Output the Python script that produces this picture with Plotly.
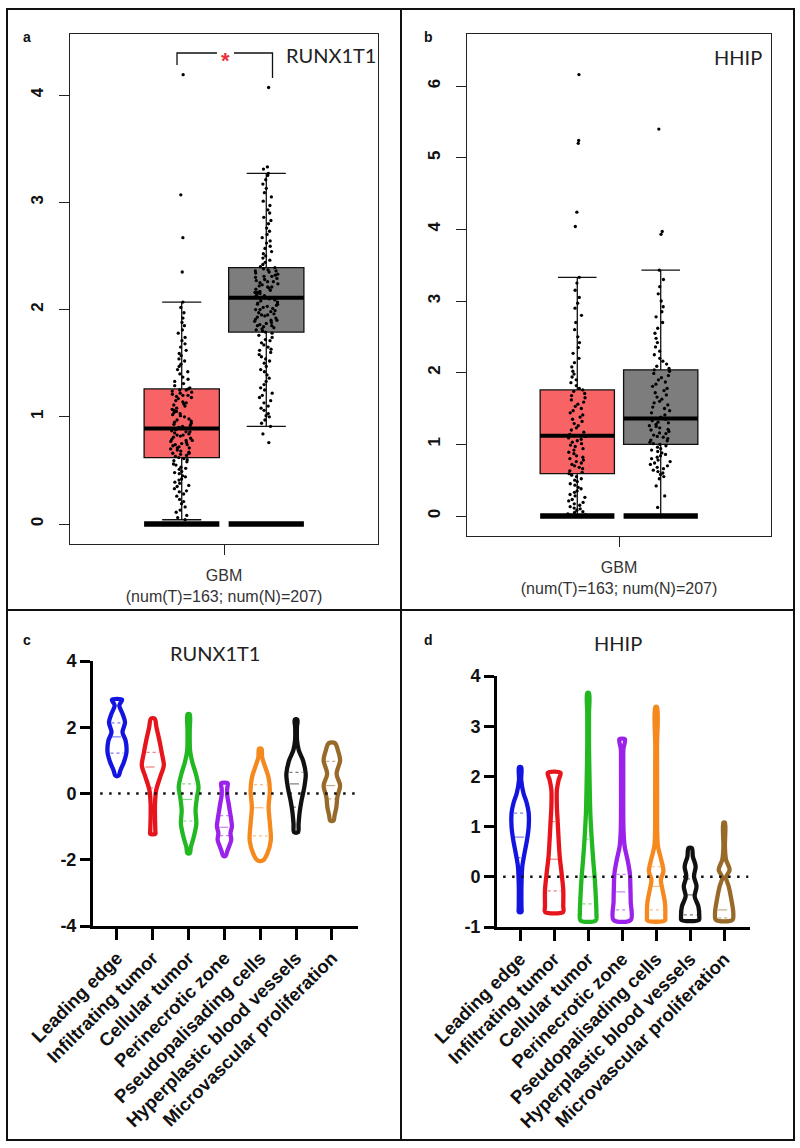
import numpy as np
import plotly.graph_objects as go

W, H = 800, 1148

# ---------------- data: panels a / b (GEPIA boxplots) ----------------
gbm_label = "GBM<br>(num(T)=163; num(N)=207)"

# stats: q1, median, q3, lower whisker, upper whisker
runx1t1_tumor_stats = [0.62, 0.89, 1.26, 0.04, 2.07]
runx1t1_normal_stats = [1.79, 2.11, 2.39, 0.91, 3.27]
hhip_tumor_stats = [0.59, 1.12, 1.76, 0.0, 3.33]
hhip_normal_stats = [1.00, 1.36, 2.04, 0.0, 3.43]
zero_floor = [0.0]

runx1t1_tumor_pts = [
    0.04, 0.06, 0.08, 0.11, 0.13, 0.16, 0.19, 0.21, 0.23, 0.26, 0.28, 0.3, 0.31, 0.33, 0.35, 0.36, 0.38,
    0.39, 0.41, 0.42, 0.44, 0.45, 0.47, 0.48, 0.49, 0.51, 0.52, 0.53, 0.55, 0.56, 0.58, 0.59, 0.6, 0.61,
    0.62, 0.63, 0.64, 0.65, 0.66, 0.67, 0.68, 0.69, 0.7, 0.71, 0.72, 0.73, 0.74, 0.75, 0.76, 0.77, 0.78,
    0.79, 0.8, 0.81, 0.82, 0.83, 0.84, 0.85, 0.86, 0.87, 0.88, 0.89, 0.66, 0.71, 0.74, 0.78, 0.83, 0.86,
    0.9, 0.91, 0.92, 0.93, 0.94, 0.95, 0.97, 0.98, 1.0, 1.01, 1.03, 1.04, 1.05, 1.06, 1.07, 1.08, 1.1,
    1.11, 1.12, 1.14, 1.15, 1.17, 1.18, 1.19, 1.2, 1.21, 1.22, 1.23, 1.24, 1.25, 1.26, 0.96, 1.02, 1.13,
    1.2, 1.25, 1.27, 1.29, 1.31, 1.33, 1.35, 1.37, 1.4, 1.42, 1.44, 1.47, 1.49, 1.52, 1.54, 1.57, 1.59,
    1.62, 1.65, 1.68, 1.71, 1.74, 1.78, 1.81, 1.85, 1.88, 1.92, 1.97, 2.02, 2.07, 2.35, 2.67, 3.07, 4.19,
]
runx1t1_normal_pts = [
    0.76, 0.84, 0.91, 0.94, 0.97, 1.0, 1.01, 1.03, 1.06, 1.08, 1.1, 1.13, 1.15, 1.18, 1.2, 1.22, 1.25,
    1.27, 1.3, 1.33, 1.36, 1.39, 1.42, 1.44, 1.47, 1.5, 1.52, 1.54, 1.56, 1.58, 1.6, 1.62, 1.63, 1.65,
    1.67, 1.69, 1.71, 1.72, 1.74, 1.76, 1.78, 1.79, 1.8, 1.81, 1.82, 1.83, 1.84, 1.85, 1.86, 1.87, 1.88,
    1.89, 1.9, 1.91, 1.92, 1.93, 1.94, 1.95, 1.96, 1.97, 1.98, 1.99, 2.0, 2.01, 2.02, 2.03, 2.04, 2.05,
    2.06, 2.07, 2.08, 2.09, 2.1, 2.11, 1.85, 1.9, 1.95, 2.0, 2.05, 2.12, 2.13, 2.14, 2.15, 2.16, 2.17,
    2.18, 2.19, 2.2, 2.21, 2.22, 2.23, 2.24, 2.25, 2.26, 2.27, 2.28, 2.29, 2.3, 2.31, 2.32, 2.33, 2.34,
    2.35, 2.36, 2.37, 2.38, 2.39, 2.16, 2.21, 2.26, 2.31, 2.36, 2.4, 2.42, 2.44, 2.46, 2.48, 2.5, 2.52,
    2.54, 2.57, 2.59, 2.62, 2.64, 2.67, 2.7, 2.73, 2.76, 2.8, 2.83, 2.86, 2.9, 2.93, 2.97, 3.01, 3.05,
    3.09, 3.13, 3.17, 3.21, 3.25, 3.27, 3.31, 3.33, 4.07,
]
hhip_tumor_pts = [
    0.0, 0.01, 0.02, 0.03, 0.05, 0.06, 0.08, 0.1, 0.11, 0.13, 0.15, 0.17, 0.19, 0.21, 0.23, 0.26, 0.28,
    0.3, 0.33, 0.35, 0.38, 0.4, 0.43, 0.45, 0.48, 0.5, 0.52, 0.55, 0.57, 0.59, 0.61, 0.63, 0.66, 0.68,
    0.7, 0.72, 0.74, 0.76, 0.78, 0.8, 0.82, 0.84, 0.87, 0.89, 0.92, 0.94, 0.97, 0.99, 1.01, 1.03, 1.05,
    1.07, 1.09, 1.11, 1.12, 1.14, 1.17, 1.2, 1.23, 1.26, 1.29, 1.32, 1.35, 1.38, 1.41, 1.44, 1.47, 1.5,
    1.53, 1.56, 1.59, 1.62, 1.65, 1.68, 1.71, 1.74, 1.76, 1.78, 1.82, 1.86, 1.9, 1.94, 1.98, 2.02, 2.08,
    2.14, 2.2, 2.27, 2.35, 2.42, 2.5, 2.6, 2.7, 2.8, 2.9, 2.97, 3.05, 3.15, 3.25, 3.33,
    4.04, 4.24, 5.2, 5.24, 6.16,
]
hhip_normal_pts = [
    0.0, 0.12, 0.28, 0.42, 0.52, 0.55, 0.58, 0.6, 0.62, 0.64, 0.66, 0.68, 0.7, 0.72, 0.74, 0.76, 0.78,
    0.8, 0.82, 0.84, 0.86, 0.88, 0.9, 0.92, 0.94, 0.96, 0.98, 1.0, 1.01, 1.03, 1.05, 1.06, 1.08, 1.1,
    1.11, 1.13, 1.15, 1.16, 1.18, 1.2, 1.21, 1.23, 1.25, 1.26, 1.28, 1.3, 1.31, 1.33, 1.35, 1.36, 1.38,
    1.41, 1.44, 1.47, 1.5, 1.52, 1.55, 1.58, 1.6, 1.63, 1.66, 1.69, 1.72, 1.75, 1.78, 1.81, 1.84, 1.87,
    1.9, 1.93, 1.96, 1.99, 2.02, 2.04, 2.06, 2.09, 2.12, 2.16, 2.2, 2.25, 2.3, 2.36, 2.42, 2.48, 2.55,
    2.62, 2.7, 2.78, 2.85, 2.92, 3.0, 3.1, 3.2, 3.3, 3.43, 3.93, 3.97, 5.4,
]

# ---------------- data: panels c / d (violins) ----------------
regions = ["Leading edge", "Infiltrating tumor", "Cellular tumor", "Perinecrotic zone",
           "Pseudopalisading cells", "Hyperplastic blood vessels", "Microvascular proliferation"]
region_colors = ["#1414e0", "#e8141c", "#22b822", "#9a22ea", "#f5891e", "#111111", "#976a2a"]

# density profiles (top -> bottom): expression levels and relative density
runx1t1_levels = [
    [2.83, 2.66, 2.41, 2.15, 1.85, 1.60, 1.25, 0.95, 0.69, 0.54],
    [2.26, 2.00, 1.60, 1.20, 0.85, 0.49, 0.09, -0.31, -0.72, -1.12, -1.22],
    [2.39, 1.90, 1.30, 0.95, 0.59, 0.19, -0.11, -0.51, -0.92, -1.32, -1.62, -1.80],
    [0.31, 0.15, -0.05, -0.30, -0.55, -0.80, -1.00, -1.20, -1.40, -1.60, -1.75, -1.88],
    [1.35, 1.10, 0.80, 0.49, 0.09, -0.41, -0.92, -1.42, -1.82, -2.02],
    [2.23, 2.00, 1.60, 1.30, 1.00, 0.59, 0.19, -0.21, -0.56, -0.92, -1.17],
    [1.52, 1.30, 1.00, 0.59, 0.24, -0.11, -0.41, -0.66, -0.82],
]
runx1t1_density = [
    [0.46, 0.21, 0.50, 0.73, 0.50, 0.78, 0.86, 0.63, 0.30, 0.15],
    [0.17, 0.33, 0.60, 0.83, 1.00, 0.66, 0.30, 0.20, 0.20, 0.23, 0.23],
    [0.10, 0.10, 0.13, 0.33, 0.66, 0.90, 0.76, 0.63, 0.70, 0.46, 0.20, 0.12],
    [0.30, 0.25, 0.25, 0.38, 0.50, 0.62, 0.68, 0.55, 0.62, 0.42, 0.25, 0.12],
    [0.12, 0.17, 0.45, 0.75, 0.88, 0.76, 0.88, 0.96, 0.63, 0.25],
    [0.12, 0.08, 0.09, 0.25, 0.63, 0.88, 0.75, 0.50, 0.33, 0.23, 0.18],
    [0.28, 0.55, 0.75, 0.43, 0.75, 0.50, 0.41, 0.25, 0.15],
]
runx1t1_q1 = [1.22, 0.17, -0.83, -1.27, -1.28, -0.41, -0.16]
runx1t1_median = [1.71, 0.80, -0.18, -1.02, -0.43, 0.29, 0.24]
runx1t1_q3 = [2.13, 1.24, 0.29, -0.67, 0.27, 0.64, 0.97]

hhip_levels = [
    [2.18, 1.93, 1.67, 1.47, 1.27, 1.00, 0.74, 0.47, 0.21, -0.19, -0.59, -0.70],
    [2.07, 1.93, 1.73, 1.40, 1.07, 0.74, 0.40, 0.07, -0.26, -0.59, -0.70],
    [3.66, 3.26, 2.60, 1.93, 1.27, 0.74, 0.34, -0.06, -0.46, -0.72, -0.87],
    [2.74, 2.55, 2.30, 1.80, 1.30, 0.90, 0.60, 0.34, 0.07, -0.20, -0.50, -0.86],
    [3.38, 2.60, 1.60, 0.87, 0.60, 0.34, 0.11, -0.06, -0.26, -0.52, -0.79, -0.87],
    [0.57, 0.40, 0.21, 0.01, -0.19, -0.39, -0.59, -0.79, -0.86],
    [1.08, 0.60, 0.34, 0.14, -0.01, -0.19, -0.46, -0.72, -0.86],
]
hhip_density = [
    [0.10, 0.10, 0.30, 0.60, 0.78, 0.78, 0.63, 0.40, 0.20, 0.12, 0.12, 0.12],
    [0.58, 0.41, 0.25, 0.25, 0.33, 0.41, 0.51, 0.68, 0.83, 0.83, 0.83],
    [0.08, 0.08, 0.08, 0.13, 0.20, 0.33, 0.46, 0.61, 0.71, 0.75, 0.70],
    [0.25, 0.12, 0.10, 0.10, 0.10, 0.13, 0.23, 0.49, 0.70, 0.75, 0.78, 0.78],
    [0.08, 0.08, 0.09, 0.10, 0.17, 0.46, 0.66, 0.43, 0.58, 0.80, 0.83, 0.80],
    [0.15, 0.25, 0.50, 0.35, 0.58, 0.41, 0.75, 0.83, 0.80],
    [0.07, 0.07, 0.17, 0.50, 0.17, 0.41, 0.66, 0.83, 0.75],
]
hhip_q1 = [0.38, -0.28, -0.54, -0.66, -0.66, -0.76, -0.82]
hhip_median = [0.79, 0.35, 0.0, -0.30, -0.19, -0.36, -0.66]
hhip_q3 = [1.27, 1.10, 0.75, 0.05, 0.20, -0.04, -0.05]


# ---------------- helpers ----------------
def fx(p):
    return p / W


def fy(p):
    return 1 - p / H


fig = go.Figure()


def add_gepia(xa, ya, stats, pts, fill, og):
    q1, med, q3, lo, hi = stats
    fig.add_trace(go.Box(
        x=[gbm_label], y=[pts], q1=[q1], median=[med], q3=[q3], lowerfence=[lo], upperfence=[hi],
        boxpoints="all", jitter=0.32, pointpos=0, whiskerwidth=0.52, fillcolor=fill,
        line=dict(color="#111111", width=1.3), marker=dict(color="#000000", size=3.3),
        offsetgroup=og, xaxis=xa, yaxis=ya, showlegend=False, hoverinfo="skip"))
    fig.add_trace(go.Box(
        x=[gbm_label], q1=[med], median=[med], q3=[med], lowerfence=[med], upperfence=[med],
        boxpoints=False, whiskerwidth=0, fillcolor="rgba(0,0,0,0)",
        line=dict(color="#000000", width=4), offsetgroup=og, xaxis=xa, yaxis=ya,
        showlegend=False, hoverinfo="skip"))
    fig.add_trace(go.Box(
        x=[gbm_label], q1=zero_floor, median=zero_floor, q3=zero_floor, lowerfence=zero_floor,
        upperfence=zero_floor, boxpoints=False, whiskerwidth=0, fillcolor="rgba(0,0,0,0)",
        line=dict(color="#000000", width=5.5), offsetgroup=og, xaxis=xa, yaxis=ya,
        showlegend=False, hoverinfo="skip"))


add_gepia("x", "y", runx1t1_tumor_stats, runx1t1_tumor_pts, "#f86466", "T")
add_gepia("x", "y", runx1t1_normal_stats, runx1t1_normal_pts, "#7d7d7d", "N")
add_gepia("x2", "y2", hhip_tumor_stats, hhip_tumor_pts, "#f86466", "T")
add_gepia("x2", "y2", hhip_normal_stats, hhip_normal_pts, "#7d7d7d", "N")


def add_violins(xa, ya, levels, density, q1s, meds, q3s, scale):
    for i, (lv, dn) in enumerate(zip(levels, density)):
        col = region_colors[i]
        lv = np.asarray(lv, float)
        dn = np.asarray(dn, float)
        xs = list(i + dn * scale) + list(i - dn[::-1] * scale) + [i + dn[0] * scale]
        ys = list(lv) + list(lv[::-1]) + [lv[0]]
        fig.add_trace(go.Scatter(
            x=xs, y=ys, mode="lines", line=dict(color=col, width=4.3, shape="spline", smoothing=0.9),
            xaxis=xa, yaxis=ya, showlegend=False, hoverinfo="skip"))
        for q, dash in ((q1s[i], "dot"), (meds[i], "dash"), (q3s[i], "dot")):
            hw = np.interp(q, lv[::-1], dn[::-1]) * scale * 0.7
            fig.add_trace(go.Scatter(
                x=[i - hw, i + hw], y=[q, q], mode="lines",
                line=dict(color=col, width=1.2, dash=dash), opacity=0.55,
                xaxis=xa, yaxis=ya, showlegend=False, hoverinfo="skip"))


add_violins("x3", "y3", runx1t1_levels, runx1t1_density, runx1t1_q1, runx1t1_median, runx1t1_q3, 11 / 35.8)
add_violins("x4", "y4", hhip_levels, hhip_density, hhip_q1, hhip_median, hhip_q3, 11 / 34.0)

# ---------------- axes ----------------
gepia_tick = dict(family="Liberation Sans, Arial", size=17, color="#111111", weight="bold")
frame = dict(showline=True, mirror=True, linecolor="#222222", linewidth=1.3, showgrid=False,
             zeroline=False, ticks="outside", ticklen=10, tickcolor="#222222", tickwidth=1,
             automargin=False)

fig.update_layout(
    xaxis=dict(domain=[fx(70), fx(378)], anchor="y", type="category",
               tickfont=dict(family="Liberation Sans, Arial", size=16, color="#333333"),
               ticklabelstandoff=7, **frame),
    yaxis=dict(domain=[fy(544), fy(34)], anchor="x", range=[-0.186, 4.569],
               tickvals=[0, 1, 2, 3, 4], tickangle=-90, tickfont=gepia_tick,
               ticklabelstandoff=9, **frame),
    xaxis2=dict(domain=[fx(467), fx(771)], anchor="y2", type="category",
                tickfont=dict(family="Liberation Sans, Arial", size=16, color="#333333"),
                ticklabelstandoff=7, **frame),
    yaxis2=dict(domain=[fy(536), fy(34)], anchor="x2", range=[-0.279, 6.726],
                tickvals=[0, 1, 2, 3, 4, 5, 6], tickangle=-90, tickfont=gepia_tick,
                ticklabelstandoff=9, **frame),
)

prism_y = dict(showline=True, linecolor="#000000", linewidth=3, ticks="outside", ticklen=10,
               tickwidth=3, tickcolor="#000000", showgrid=False, zeroline=False, automargin=False,
               tickfont=dict(family="Liberation Sans, Arial", size=18, color="#111111", weight="bold"))
prism_x = dict(showline=True, linecolor="#000000", linewidth=3, ticks="outside", ticklen=11,
               tickwidth=3, tickcolor="#000000", showgrid=False, zeroline=False, tickangle=-45,
               tickvals=list(range(7)), ticktext=regions, automargin=False,
               tickfont=dict(family="Liberation Sans, Arial", size=18.5, color="#111111", weight="bold"))

fig.update_layout(
    xaxis3=dict(domain=[fx(93), fx(358)], anchor="y3", range=[-0.67, 6.73], **prism_x),
    yaxis3=dict(domain=[fy(926), fy(661)], anchor="x3", range=[-4, 4],
                tickvals=[-4, -2, 0, 2, 4], ticktext=["-4", "-2", "0", "2", "4"], **prism_y),
    xaxis4=dict(domain=[fx(497), fx(750)], anchor="y4", range=[-0.68, 6.76], **prism_x),
    yaxis4=dict(domain=[fy(927), fy(676)], anchor="x4", range=[-1, 4],
                tickvals=[-1, 0, 1, 2, 3, 4], ticktext=["-1", "0", "1", "2", "3", "4"], **prism_y),
)

# ---------------- decorations ----------------
shapes = [
    dict(type="rect", xref="paper", yref="paper", x0=fx(7), x1=fx(794), y0=fy(1140), y1=fy(9),
         line=dict(color="#111111", width=2)),
    dict(type="line", xref="paper", yref="paper", x0=fx(401), x1=fx(401), y0=fy(1140), y1=fy(9),
         line=dict(color="#111111", width=2)),
    dict(type="line", xref="paper", yref="paper", x0=fx(7), x1=fx(794), y0=fy(610), y1=fy(610),
         line=dict(color="#111111", width=2)),
    # significance bracket (panel a)
    dict(type="path", xref="paper", yref="paper",
         path=f"M {fx(177)},{fy(65)} L {fx(177)},{fy(53)} L {fx(217)},{fy(53)}",
         line=dict(color="#111111", width=1.3)),
    dict(type="path", xref="paper", yref="paper",
         path=f"M {fx(234)},{fy(53)} L {fx(272.5)},{fy(53)} L {fx(272.5)},{fy(78)}",
         line=dict(color="#111111", width=1.3)),
    # dotted zero lines
    dict(type="line", xref="x3", yref="y3", x0=-0.47, x1=6.70, y0=0, y1=0,
         line=dict(color="#111111", width=2.5, dash="2.5px,6.5px")),
    dict(type="line", xref="x4", yref="y4", x0=-0.50, x1=6.71, y0=0, y1=0,
         line=dict(color="#111111", width=2.5, dash="2.5px,6.5px")),
]

letter_font = dict(family="Liberation Sans, Arial", size=14, color="#111111", weight="bold")
title_font = dict(family="Lato", size=20, color="#222222")
annotations = [
    dict(text="a", x=fx(27), y=fy(37), font=letter_font),
    dict(text="b", x=fx(428), y=fy(37), font=letter_font),
    dict(text="c", x=fx(27), y=fy(640), font=letter_font),
    dict(text="d", x=fx(428), y=fy(640), font=letter_font),
    dict(text="RUNX1T1", x=fx(378), y=fy(55), xanchor="right", font=title_font),
    dict(text="HHIP", x=fx(764), y=fy(57), xanchor="right", font=title_font),
    dict(text="RUNX1T1", x=fx(215), y=fy(653), font=title_font),
    dict(text="HHIP", x=fx(618), y=fy(643), font=title_font),
    dict(text="*", x=fx(225.5), y=fy(61), font=dict(family="Liberation Sans, Arial", size=22,
                                                     color="#e8303a", weight="bold")),
]
for a in annotations:
    a.setdefault("xref", "paper")
    a.setdefault("yref", "paper")
    a.setdefault("showarrow", False)
    a.setdefault("xanchor", "center")
    a.setdefault("yanchor", "middle")

fig.update_layout(
    template="none",
    width=W, height=H, margin=dict(l=0, r=0, t=0, b=0, autoexpand=False),
    paper_bgcolor="white", plot_bgcolor="white",
    boxmode="group", boxgap=0.445, boxgroupgap=0.11,
    shapes=shapes, annotations=annotations, showlegend=False,
)

fig.write_html("out.html", config={"displayModeBar": False},
               post_script="document.body.style.margin='0px';")
